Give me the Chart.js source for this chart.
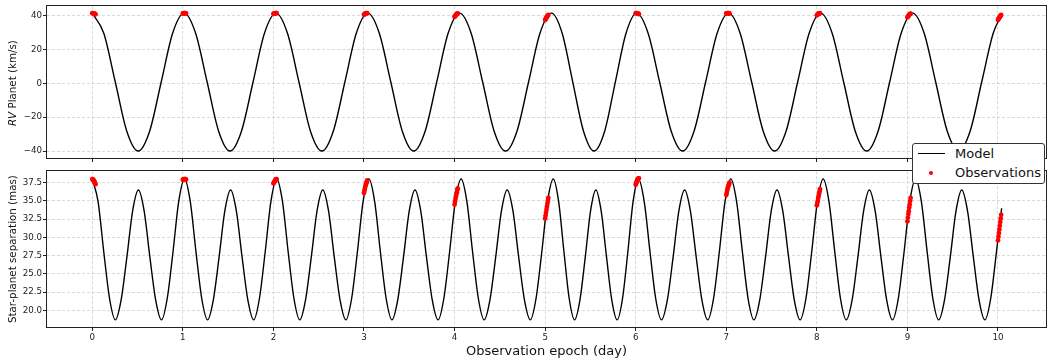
<!DOCTYPE html>
<html>
<head>
<meta charset="utf-8">
<script src="https://cdn.jsdelivr.net/npm/chart.js@4.4.1/dist/chart.umd.min.js"></script>
<style>
  html, body { margin: 0; padding: 0; background: #fff; }
  #wrap { position: relative; width: 1050px; height: 362px; overflow: hidden; font-family: 'DejaVu Sans', sans-serif; }
  #wrap canvas { position: absolute; left: 0; }
  #rvChart { top: 0; }
  #sepChart { top: 165px; }
  .legend {
    position: absolute; left: 912px; top: 143px; width: 131px; height: 39px;
    background: #fff; border: 1px solid #333; border-radius: 3px;
    font-size: 13px; color: #111;
  }
  .legend .row { position: absolute; left: 0; height: 16px; width: 100%; }
  .legend .lbl { position: absolute; left: 42px; top: 0; line-height: 16px; }
  .legend .line { position: absolute; left: 5px; top: 7px; width: 27px; height: 1.4px; background: #000; }
  .legend .dot { position: absolute; left: 16px; top: 6px; width: 4px; height: 4px; border-radius: 50%; background: #ff0000; }
</style>
</head>
<body>
<div id="wrap">
  <canvas id="rvChart" width="1050" height="165"></canvas>
  <canvas id="sepChart" width="1050" height="197"></canvas>
  <div class="legend">
    <div class="row" style="top:2px"><div class="line"></div><span class="lbl">Model</span></div>
    <div class="row" style="top:21px"><div class="dot"></div><span class="lbl">Observations</span></div>
  </div>
</div>
<script>
// ---- data ----
const epochTicks = [0, 1, 2, 3, 4, 5, 6, 7, 8, 9, 10];
const rvTicks = [-40, -20, 0, 20, 40];
const sepTicks = [20, 22.5, 25, 27.5, 30, 32.5, 35, 37.5];

// RV model curve (km/s)
const rvModelTime = [
  0.000, 0.127, 0.254, 0.380, 0.507, 0.634, 0.761, 0.887,
  1.014, 1.141, 1.268, 1.394, 1.521, 1.648, 1.775, 1.901,
  2.028, 2.155, 2.282, 2.408, 2.535, 2.662, 2.789, 2.915,
  3.042, 3.169, 3.296, 3.422, 3.549, 3.676, 3.803, 3.929,
  4.056, 4.183, 4.310, 4.436, 4.563, 4.690, 4.817, 4.943,
  5.070, 5.188, 5.305, 5.423, 5.540, 5.658, 5.775, 5.893,
  6.010, 6.137, 6.264, 6.391, 6.518, 6.645, 6.772, 6.899,
  7.026, 7.153, 7.280, 7.407, 7.534, 7.661, 7.788, 7.915,
  8.042, 8.169, 8.296, 8.423, 8.550, 8.677, 8.804, 8.931,
  9.058, 9.185, 9.312, 9.439, 9.566, 9.693, 9.820, 9.947,
  10.040
];
const rvModel = [
  41.5, 29.6, 0.8, -28.1, -40.0, -28.1, 0.8, 29.6,
  41.5, 29.6, 0.8, -28.1, -40.0, -28.1, 0.8, 29.6,
  41.5, 29.6, 0.8, -28.1, -40.0, -28.1, 0.8, 29.6,
  41.5, 29.6, 0.8, -28.1, -40.0, -28.1, 0.8, 29.6,
  41.5, 29.6, 0.8, -28.1, -40.0, -28.1, 0.8, 29.6,
  41.5, 29.6, 0.8, -28.1, -40.0, -28.1, 0.8, 29.6,
  41.5, 29.6, 0.8, -28.1, -40.0, -28.1, 0.8, 29.6,
  41.5, 29.6, 0.8, -28.1, -40.0, -28.1, 0.8, 29.6,
  41.5, 29.6, 0.8, -28.1, -40.0, -28.1, 0.8, 29.6,
  41.5, 29.6, 0.8, -28.1, -40.0, -28.1, 0.8, 29.6,
  40.6
];

// star-planet separation model curve (mas)
const sepModelTime = [
  0.000, 0.064, 0.127, 0.191, 0.255, 0.318, 0.382, 0.445, 0.509, 0.573, 0.636, 0.700, 0.764, 0.827, 0.891, 0.954,
  1.018, 1.082, 1.145, 1.209, 1.273, 1.336, 1.400, 1.463, 1.527, 1.591, 1.654, 1.718, 1.782, 1.845, 1.909, 1.972,
  2.036, 2.100, 2.163, 2.227, 2.291, 2.354, 2.418, 2.481, 2.545, 2.609, 2.672, 2.736, 2.800, 2.863, 2.927, 2.990,
  3.054, 3.118, 3.181, 3.245, 3.309, 3.372, 3.436, 3.499, 3.563, 3.627, 3.690, 3.754, 3.818, 3.881, 3.945, 4.008,
  4.072, 4.136, 4.199, 4.263, 4.327, 4.390, 4.454, 4.517, 4.581, 4.645, 4.708, 4.772, 4.836, 4.899, 4.963, 5.026,
  5.090, 5.149, 5.208, 5.266, 5.325, 5.384, 5.443, 5.501, 5.560, 5.619, 5.678, 5.736, 5.795, 5.854, 5.913, 5.971,
  6.030, 6.094, 6.158, 6.221, 6.285, 6.349, 6.413, 6.476, 6.540, 6.604, 6.668, 6.731, 6.795, 6.859, 6.923, 6.986,
  7.050, 7.114, 7.178, 7.241, 7.305, 7.369, 7.433, 7.496, 7.560, 7.624, 7.688, 7.751, 7.815, 7.879, 7.943, 8.006,
  8.070, 8.134, 8.198, 8.261, 8.325, 8.389, 8.453, 8.516, 8.580, 8.644, 8.708, 8.771, 8.835, 8.899, 8.963, 9.026,
  9.090, 9.154, 9.218, 9.281, 9.345, 9.409, 9.473, 9.536, 9.600, 9.664, 9.728, 9.791, 9.855, 9.919, 9.983,
  10.040
];
const sepModel = [
  38.0, 34.9, 28.0, 21.6, 18.7, 21.4, 27.3, 33.6, 36.5, 33.6, 27.3, 21.4, 18.7, 21.6, 28.0, 34.9,
  38.0, 34.9, 28.0, 21.6, 18.7, 21.4, 27.3, 33.6, 36.5, 33.6, 27.3, 21.4, 18.7, 21.6, 28.0, 34.9,
  38.0, 34.9, 28.0, 21.6, 18.7, 21.4, 27.3, 33.6, 36.5, 33.6, 27.3, 21.4, 18.7, 21.6, 28.0, 34.9,
  38.0, 34.9, 28.0, 21.6, 18.7, 21.4, 27.3, 33.6, 36.5, 33.6, 27.3, 21.4, 18.7, 21.6, 28.0, 34.9,
  38.0, 34.9, 28.0, 21.6, 18.7, 21.4, 27.3, 33.6, 36.5, 33.6, 27.3, 21.4, 18.7, 21.6, 28.0, 34.9,
  38.0, 34.9, 28.0, 21.6, 18.7, 21.4, 27.3, 33.6, 36.5, 33.6, 27.3, 21.4, 18.7, 21.6, 28.0, 34.9,
  38.0, 34.9, 28.0, 21.6, 18.7, 21.4, 27.3, 33.6, 36.5, 33.6, 27.3, 21.4, 18.7, 21.6, 28.0, 34.9,
  38.0, 34.9, 28.0, 21.6, 18.7, 21.4, 27.3, 33.6, 36.5, 33.6, 27.3, 21.4, 18.7, 21.6, 28.0, 34.9,
  38.0, 34.9, 28.0, 21.6, 18.7, 21.4, 27.3, 33.6, 36.5, 33.6, 27.3, 21.4, 18.7, 21.6, 28.0, 34.9,
  38.0, 34.9, 28.0, 21.6, 18.7, 21.4, 27.3, 33.6, 36.5, 33.6, 27.3, 21.4, 18.7, 21.6, 28.0,
  34.0
];

// observation epochs (day), shared by both panels
const obsEpoch = [
  0.000, 0.005, 0.010, 0.015, 0.020, 0.025, 0.030, 0.035,
  1.000, 1.005, 1.010, 1.015, 1.020, 1.025, 1.030, 1.035,
  2.000, 2.005, 2.010, 2.015, 2.020, 2.025, 2.030, 2.035,
  3.000, 3.005, 3.010, 3.015, 3.020, 3.025, 3.030, 3.035,
  4.000, 4.005, 4.010, 4.015, 4.020, 4.025, 4.030, 4.035,
  5.000, 5.005, 5.010, 5.015, 5.020, 5.025, 5.030, 5.035,
  6.000, 6.005, 6.010, 6.015, 6.020, 6.025, 6.030, 6.035,
  7.000, 7.005, 7.010, 7.015, 7.020, 7.025, 7.030, 7.035,
  8.000, 8.005, 8.010, 8.015, 8.020, 8.025, 8.030, 8.035,
  9.000, 9.005, 9.010, 9.015, 9.020, 9.025, 9.030, 9.035,
  10.000, 10.005, 10.010, 10.015, 10.020, 10.025, 10.030, 10.035
];
const rvObs = [
  41.5, 41.5, 41.4, 41.3, 41.2, 41.1, 41.0, 40.8,
  41.3, 41.4, 41.5, 41.5, 41.5, 41.5, 41.4, 41.4,
  41.1, 41.2, 41.3, 41.4, 41.5, 41.5, 41.5, 41.5,
  40.6, 40.8, 41.0, 41.2, 41.3, 41.4, 41.5, 41.5,
  39.3, 39.7, 40.1, 40.4, 40.7, 41.0, 41.2, 41.3,
  37.5, 38.0, 38.5, 38.9, 39.4, 39.8, 40.1, 40.4,
  41.5, 41.5, 41.5, 41.4, 41.3, 41.2, 41.1, 40.9,
  41.4, 41.4, 41.5, 41.5, 41.5, 41.5, 41.4, 41.3,
  40.2, 40.5, 40.8, 41.0, 41.2, 41.3, 41.4, 41.5,
  39.0, 39.4, 39.8, 40.2, 40.5, 40.8, 41.0, 41.2,
  37.5, 38.0, 38.5, 38.9, 39.4, 39.8, 40.1, 40.4
];
const sepObs = [
  38.0, 37.9, 37.9, 37.8, 37.7, 37.6, 37.4, 37.3,
  37.9, 37.9, 38.0, 38.0, 38.0, 38.0, 38.0, 37.9,
  37.4, 37.5, 37.6, 37.7, 37.8, 37.9, 38.0, 38.0,
  36.1, 36.4, 36.7, 37.0, 37.2, 37.4, 37.6, 37.8,
  34.5, 34.9, 35.3, 35.6, 35.9, 36.2, 36.5, 36.7,
  32.6, 33.0, 33.4, 33.8, 34.2, 34.6, 35.0, 35.4,
  37.2, 37.4, 37.6, 37.8, 37.9, 38.0, 38.1, 38.1,
  35.8, 36.1, 36.4, 36.7, 36.9, 37.1, 37.3, 37.5,
  34.4, 34.7, 35.0, 35.4, 35.7, 36.0, 36.3, 36.6,
  32.2, 32.7, 33.2, 33.6, 34.1, 34.5, 35.0, 35.4,
  29.6, 30.1, 30.6, 31.1, 31.6, 32.1, 32.6, 33.1
];

// ---- helpers ----
const FONT = "'DejaVu Sans', sans-serif";
const toPoints = (xs, ys) => xs.map((x, i) => ({ x: x, y: ys[i] }));
const minus = (v) => (v < 0 ? '\u2212' + Math.abs(v) : String(v));

// frame on all four sides, plus hand-placed axis titles
function framePlugin(drawTitles) {
  return {
    id: 'frame',
    afterDraw(chart) {
      const { ctx, chartArea: a } = chart;
      ctx.save();
      ctx.strokeStyle = '#222';
      ctx.lineWidth = 1;
      ctx.strokeRect(Math.round(a.left) - 0.5, Math.round(a.top) - 0.5,
        Math.round(a.right - a.left) + 1, Math.round(a.bottom - a.top) + 1);
      ctx.fillStyle = '#111';
      drawTitles(ctx, a);
      ctx.restore();
    }
  };
}

function makeOptions(yMin, yMax, yTicks, yFmt, showXLabels, pad) {
  return {
    responsive: false,
    animation: false,
    devicePixelRatio: 1,
    layout: { padding: pad },
    plugins: { legend: { display: false }, tooltip: { enabled: false } },
    scales: {
      x: {
        type: 'linear',
        min: -0.5,
        max: 10.53,
        afterBuildTicks: (s) => { s.ticks = epochTicks.map(v => ({ value: v })); },
        afterFit: (s) => { s.height = showXLabels ? 35 : 7; },
        ticks: {
          display: showXLabels, autoSkip: false, maxRotation: 0, padding: 2,
          color: '#222', font: { family: FONT, size: 8.7 },
          callback: (v) => String(v)
        },
        grid: { color: '#cfcfcf', lineWidth: 0.8, tickLength: 4, tickColor: '#222', tickWidth: 1 },
        border: { display: false, dash: [3, 2] }
      },
      y: {
        type: 'linear',
        min: yMin,
        max: yMax,
        afterBuildTicks: (s) => { s.ticks = yTicks.map(v => ({ value: v })); },
        afterFit: (s) => { s.width = 47; },
        ticks: {
          padding: 1, color: '#222', font: { family: FONT, size: 8.7 },
          callback: yFmt
        },
        grid: { color: '#cfcfcf', lineWidth: 0.8, tickLength: 4, tickColor: '#222', tickWidth: 1 },
        border: { display: false, dash: [3, 2] }
      }
    }
  };
}

function datasets(modelT, modelY, obsY) {
  return [
    {
      label: 'Observations',
      data: toPoints(obsEpoch, obsY),
      showLine: false,
      pointRadius: 2.4,
      pointBackgroundColor: '#ff0000',
      pointBorderWidth: 0,
      order: 0
    },
    {
      label: 'Model',
      data: toPoints(modelT, modelY),
      showLine: true,
      borderColor: '#000',
      borderWidth: 1.4,
      pointRadius: 0,
      cubicInterpolationMode: 'monotone',
      fill: false,
      order: 1
    }
  ];
}

new Chart(document.getElementById('rvChart'), {
  type: 'scatter',
  data: { datasets: datasets(rvModelTime, rvModel, rvObs) },
  options: makeOptions(-44.1, 45.6, rvTicks, minus, false, { top: 3, right: 3, left: 0, bottom: 0 }),
  plugins: [framePlugin((ctx, a) => {
    ctx.font = 'italic 10.3px ' + FONT;
    const w1 = ctx.measureText('RV').width;
    ctx.font = '10.3px ' + FONT;
    const w2 = ctx.measureText(' Planet (km/s)').width;
    ctx.translate(13.5, (a.top + a.bottom) / 2 + 1);
    ctx.rotate(-Math.PI / 2);
    ctx.textBaseline = 'middle';
    ctx.textAlign = 'left';
    const x0 = -(w1 + w2) / 2;
    ctx.font = 'italic 10.3px ' + FONT;
    ctx.fillText('RV', x0, 0);
    ctx.font = '10.3px ' + FONT;
    ctx.fillText(' Planet (km/s)', x0 + w1, 0);
  })]
});

new Chart(document.getElementById('sepChart'), {
  type: 'scatter',
  data: { datasets: datasets(sepModelTime, sepModel, sepObs) },
  options: makeOptions(17.73, 39.07, sepTicks, (v) => v.toFixed(1), true, { top: 5.7, right: 3, left: 0, bottom: 0 }),
  plugins: [framePlugin((ctx, a) => {
    ctx.textBaseline = 'middle';
    ctx.textAlign = 'center';
    ctx.font = '13px ' + FONT;
    ctx.fillText('Observation epoch (day)', (a.left + a.right) / 2, 187);
    ctx.save();
    ctx.translate(13.5, (a.top + a.bottom) / 2);
    ctx.rotate(-Math.PI / 2);
    ctx.font = '10.3px ' + FONT;
    ctx.fillText('Star-planet separation (mas)', 0, 0);
    ctx.restore();
  })]
});
</script>
</body>
</html>
